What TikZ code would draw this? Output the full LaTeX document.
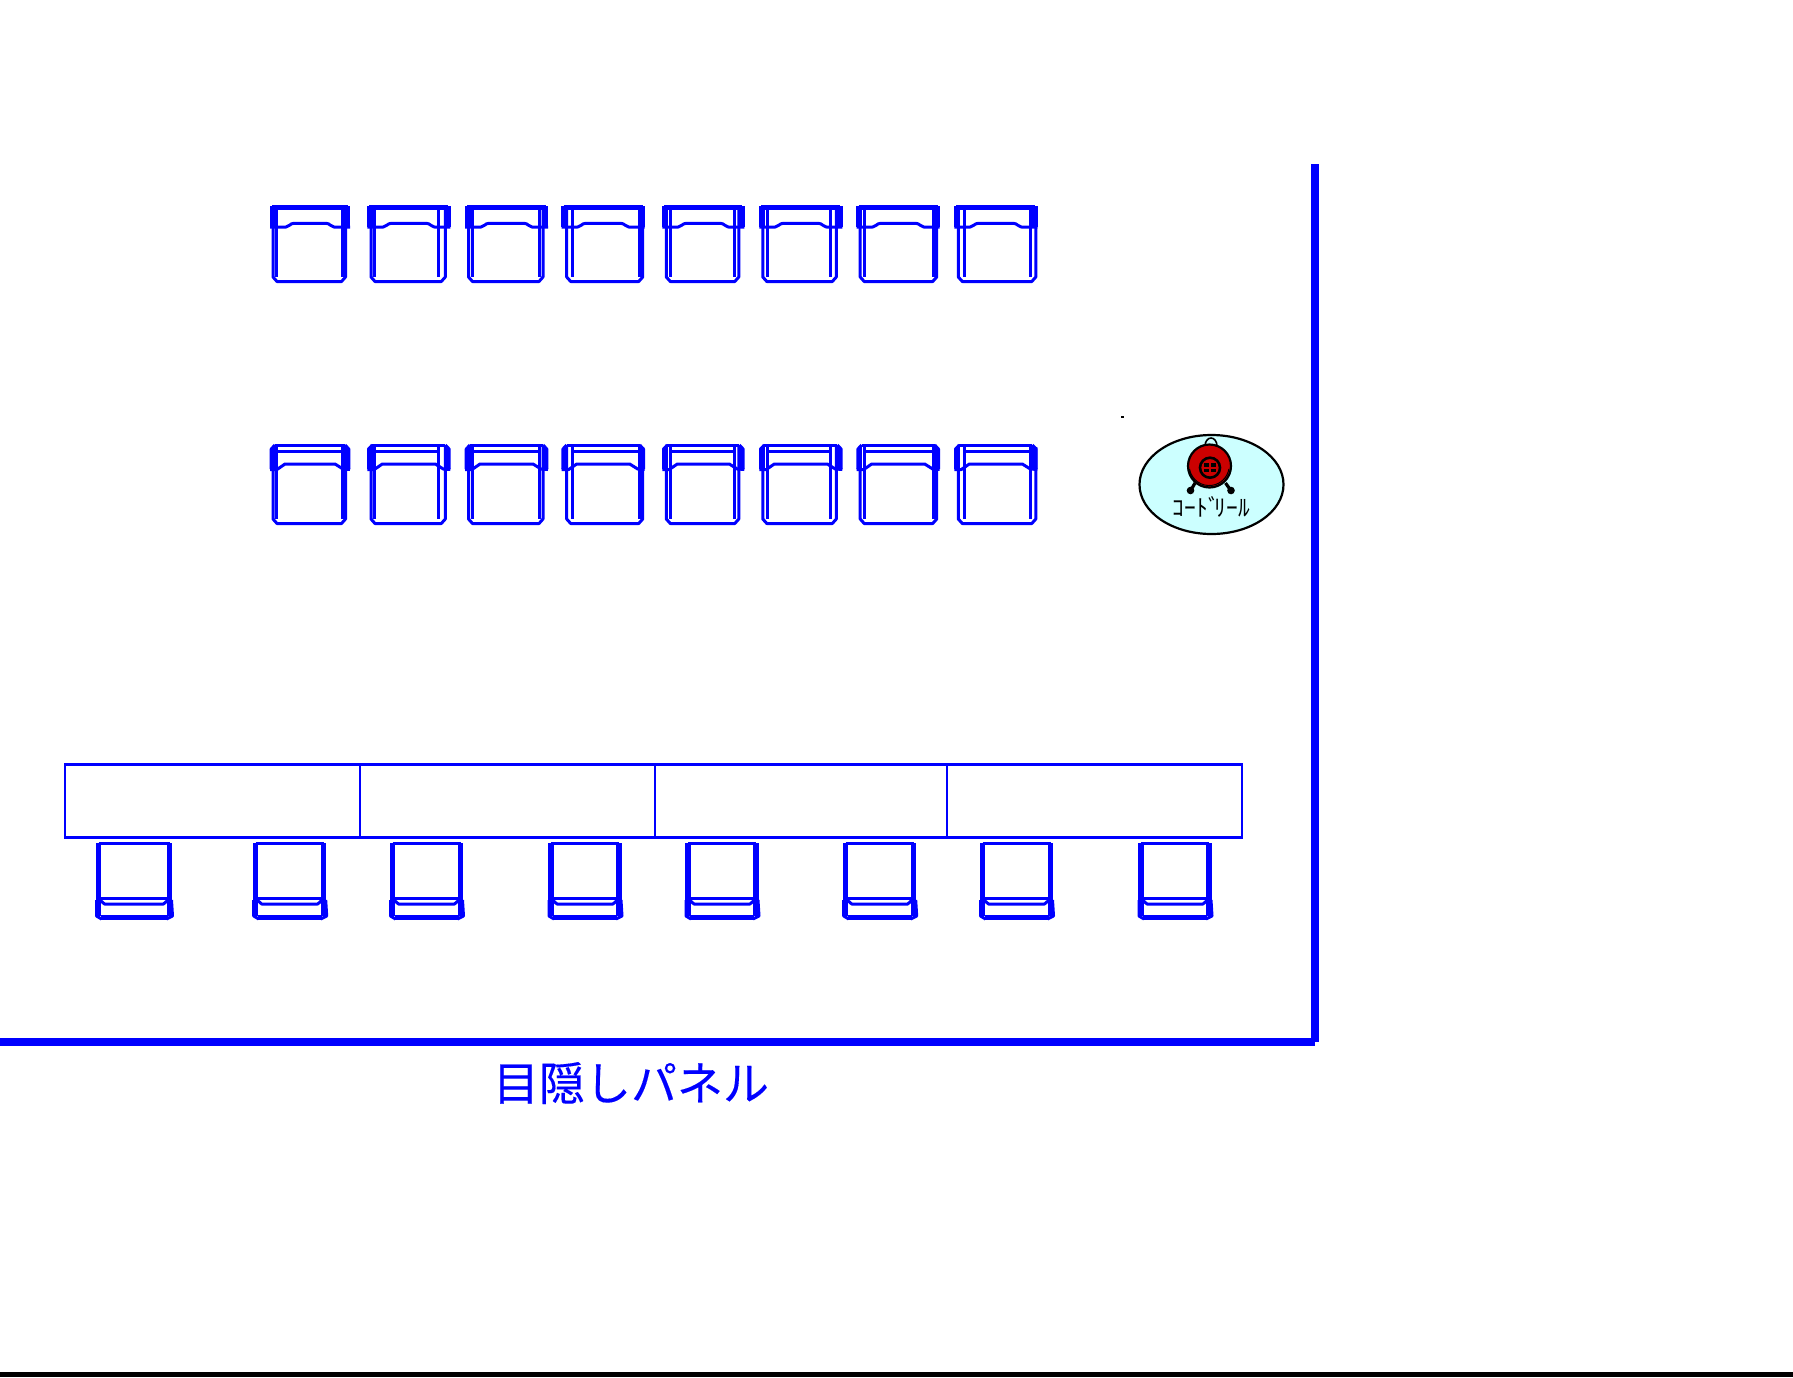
\documentclass[tikz,border=0pt]{standalone}
\usepackage{fontspec}
\usetikzlibrary{shapes.geometric}
\newfontfamily\jpfont{Noto Sans CJK JP}
\newfontfamily\panelfont[FakeBold=0.25]{Noto Sans CJK JP}
\definecolor{reelbg}{HTML}{CCFFFF}
\definecolor{reelred}{HTML}{CC0000}
\tikzset{
    wall/.style={draw=blue, line width=4pt},
    tableline/.style={draw=blue, line width=1.4pt},
    chairline/.style={draw=blue, line width=1.5pt, line join=round},
    chairthick/.style={draw=blue, line width=2.7pt},
    % chair facing down, back at the top
    chairtop/.pic={
        \draw[chairthick] (2,2.5) -- (\cw-2,2.5);
        \foreach \armx in {1.2,4,\lin,\rin,\cw-4,\cw-1.2} {
            \draw[chairline] (\armx,1.2) -- (\armx,22);
        }
        \draw[chairline] (0,22) -- (16,22) .. controls (19,22) and (20,18.3) .. (24,18.3) -- (\cw-24,18.3) .. controls (\cw-20,18.3) and (\cw-19,22) .. (\cw-16,22) -- (\cw,22);
        \draw[chairline] (\lout,1.2) -- (\lout,72) -- (\lout+4,76.5) -- (\rout-4,76.5) -- (\rout,72) -- (\rout,1.2);
        \draw[chairline] (\lin,22) -- (\lin,72);
        \draw[chairline] (\rin,22) -- (\rin,72);
    },
    chairmid/.pic={
        \draw[chairline] (5,1.5) -- (\cw-5,1.5);
        \draw[chairline] (5,1) -- (1.2,5) -- (1.2,25);
        \draw[chairline] (\cw-5,1) -- (\cw-1.2,5) -- (\cw-1.2,25);
        \draw[chairline] (\lin,7) -- (\rin,7);
        \foreach \armx in {4,\lin,\rin,\cw-4} {
            \draw[chairline] (\armx,3) -- (\armx,25);
        }
        \draw[chairline] (0,25.5) -- (7,25.5) -- (15,20) -- (\cw-15,20) -- (\cw-7,25) -- (\cw,25.5);
        \draw[chairline] (\lout,3) -- (\lout,75) -- (\lout+4,79.5) -- (\rout-4,79.5) -- (\rout,75) -- (\rout,3);
        \draw[chairline] (\lin,25) -- (\lin,75);
        \draw[chairline] (\rin,25) -- (\rin,75);
    },
    % chair at the table, back at the bottom
    chairbottom/.pic={
        \draw[chairline] (3,1) -- (\cw-3,1);
        \draw[chairthick] (3,1) -- (3,74);
        \draw[chairthick] (\cw-3,1) -- (\cw-3,74);
        \draw[chairline] (5,56.5) -- (\cw-5,56.5);
        \draw[chairline] (5,58.5) -- (9,62) -- (\cw-9,62) -- (\cw-5,58.5);
        \draw[chairline] (1,58) -- (1,74) -- (6,77);
        \draw[chairline] (\cw-1,58) -- (\cw,74) -- (\cw-6,77);
        \draw[chairthick] (5,75.5) -- (\cw-5,75.5);
    },
}
\begin{document}
\begin{tikzpicture}[x=0.5pt, y=-0.5pt]
    \useasboundingbox (0,0) rectangle (1793,1377);

    % walls
    \draw[wall] (1315,164) -- (1315,1042);
    \draw[wall] (0,1042) -- (1315,1042);
    \draw[black, line width=2.4pt] (0,1374.5) -- (1793,1374.5);

    % chair rows
    \foreach \xpos/\cw/\lout/\lin/\rin/\rout in {270/80/3/6.5/72/75.5, 367.3/83/3.7/7/71/78, 465/83/3.5/7/74.5/78, 561.7/83/5/10.7/78/81,
        662.3/82/4/8/72/76.5, 759.3/83/3.5/8/71/77, 856.7/83/3.5/8/76.5/80, 954.3/83/4/10/76.5/81.5} {
        \pic at (\xpos,205) {chairtop};
        \pic at (\xpos,444) {chairmid};
    }

    % tables
    \draw[tableline] (65,764.7) rectangle (1242,837.3);
    \foreach \xpos in {360,655,947} {
        \draw[tableline] (\xpos,764.7) -- (\xpos,837.3);
    }
    \foreach \xpos/\cw in {95.5/77,252.7/74,389.5/74,548/74,685/74,842.7/74,979.5/74,1138/74} {
        \pic at (\xpos,842) {chairbottom};
    }

    % cord reel
    \node[draw=black, line width=1.1pt, fill=reelbg, ellipse, minimum width=72pt, minimum height=49.5pt, inner sep=0pt] (reelbox) at (1211.5,484.5) {};
    \draw[black, line width=0.8pt] (1205,446) arc[start angle=180, end angle=360, x radius=6, y radius=8];
    \draw[black, line width=1.6pt] (1195,483) -- (1191,490);
    \draw[black, line width=1.6pt] (1225.5,483) -- (1230.5,490);
    \fill[black] (1190.5,490.5) circle[radius=3.8];
    \fill[black] (1231,490.5) circle[radius=3.8];
    \draw[black, line width=1.1pt, fill=reelred] (1209.5,466) circle[radius=21.5];
    \draw[black, line width=0.5pt] (1189.5,469) arc[start angle=170, end angle=10, radius=20];
    \draw[black, line width=1.3pt] (1210,467.7) circle[radius=10];
    \foreach \xpos/\ypos in {1206.8/465,1213.2/465,1206.8/470.6,1213.2/470.6} {
        \fill[black] (\xpos-2.5,\ypos-1.7) rectangle (\xpos+2.5,\ypos+1.7);
    }
    \node[inner sep=0pt] (reellabel) at (1211.5,506.5) {\jpfont\fontsize{11.7}{12}\selectfont ｺｰﾄﾞ\kern-2.4pt ﾘｰﾙ};
    \fill[black] (1121,416) rectangle (1124,418);

    \node[blue, inner sep=0pt] (panellabel) at (631,1083) {\panelfont\fontsize{23}{24}\selectfont 目隠しパネル};
\end{tikzpicture}
\end{document}
